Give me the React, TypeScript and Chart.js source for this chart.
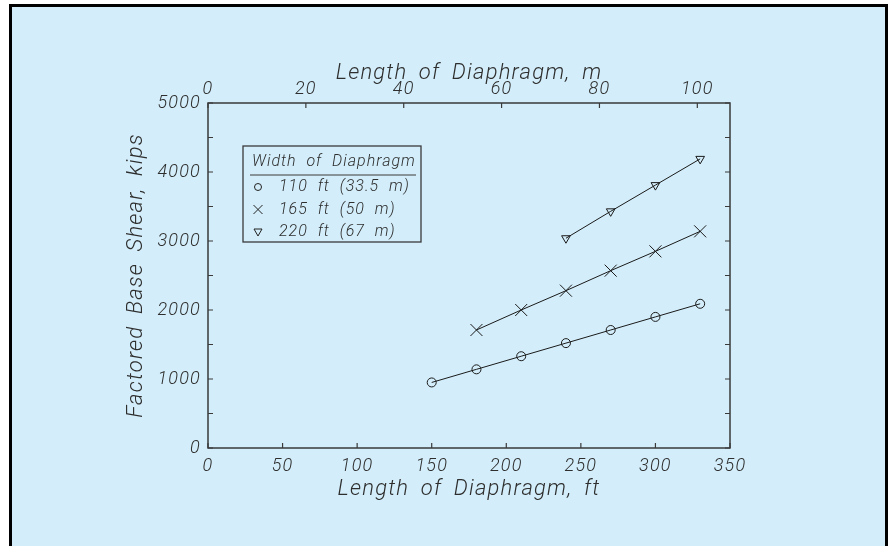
import { useEffect, useRef } from "react";
import { Chart, registerables } from "chart.js";
Chart.register(...registerables);

// ---- data ----
const lengthsFt110 = [150, 180, 210, 240, 270, 300, 330];
const shear110 = [950, 1140, 1330, 1520, 1710, 1900, 2090];
const lengthsFt165 = [180, 210, 240, 270, 300, 330];
const shear165 = [1710, 2000, 2280, 2570, 2850, 3140];
const lengthsFt220 = [240, 270, 300, 330];
const shear220 = [3040, 3430, 3810, 4190];
const seriesLabels = ["110 ft (33.5 m)", "165 ft (50 m)", "220 ft (67 m)"];
const topTicksM = [0, 20, 40, 60, 80, 100];
const legendTitle = "Width of Diaphragm";
const xTitleFt = "Length of Diaphragm, ft";
const xTitleM = "Length of Diaphragm, m";
const yTitle = "Factored Base Shear, kips";
const FT_PER_M = 3.28084;
const X_MAX_FT = 350;
const Y_MAX = 5000;

const FONT = "Roboto, 'DejaVu Sans', sans-serif";
const TEXT = "#2e2e2e";
const AXIS = "#3a3a3a";

const toPts = (xs: number[], ys: number[]) => xs.map((x, i) => ({ x, y: ys[i] }));

const setSpacing = (ctx: any) => {
  ctx.letterSpacing = "1.2px";
  ctx.wordSpacing = "5px";
};

const spacingPlugin = {
  id: "spacing",
  beforeLayout(chart: any) {
    setSpacing(chart.ctx);
  },
  beforeDraw(chart: any) {
    setSpacing(chart.ctx);
  },
};

const framePlugin = {
  id: "frame",
  afterDatasetsDraw(chart: any) {
    const { ctx, chartArea: a, scales } = chart;
    ctx.save();
    ctx.strokeStyle = AXIS;
    ctx.lineWidth = 1.5;
    ctx.strokeRect(a.left, a.top, a.right - a.left, a.bottom - a.top);
    ctx.lineWidth = 1.2;
    const L = 5;
    ctx.beginPath();
    for (const t of scales.x.ticks) {
      const p = scales.x.getPixelForValue(t.value);
      ctx.moveTo(p, a.bottom);
      ctx.lineTo(p, a.bottom - L);
    }
    for (const t of scales.x2.ticks) {
      const p = scales.x2.getPixelForValue(t.value);
      ctx.moveTo(p, a.top);
      ctx.lineTo(p, a.top + L);
    }
    for (const t of scales.y.ticks) {
      const p = scales.y.getPixelForValue(t.value);
      ctx.moveTo(a.left, p);
      ctx.lineTo(a.left + L, p);
      ctx.moveTo(a.right, p);
      ctx.lineTo(a.right - L, p);
    }
    ctx.stroke();
    ctx.restore();
  },
};

const legendPlugin = {
  id: "boxLegend",
  afterDraw(chart: any) {
    const { ctx, chartArea: a } = chart;
    const bx = a.left + 35;
    const by = a.top + 43;
    const bw = 178;
    const bh = 96;
    ctx.save();
    ctx.letterSpacing = "1px";
    ctx.wordSpacing = "5px";
    ctx.strokeStyle = AXIS;
    ctx.lineWidth = 1.3;
    ctx.strokeRect(bx, by, bw, bh);
    ctx.fillStyle = TEXT;
    ctx.font = `italic 300 16px ${FONT}`;
    ctx.textBaseline = "middle";
    ctx.textAlign = "left";
    ctx.fillText(legendTitle, bx + 9, by + 16);
    ctx.beginPath();
    ctx.lineWidth = 1;
    ctx.moveTo(bx + 7, by + 29);
    ctx.lineTo(bx + bw - 5, by + 29);
    ctx.stroke();
    chart.data.datasets.forEach((ds: any, i: number) => {
      const cy = by + 41 + i * 22.5;
      const cx = bx + 15;
      ctx.strokeStyle = "#222";
      ctx.lineWidth = 1;
      ctx.beginPath();
      if (i === 0) {
        ctx.arc(cx, cy, 3.5, 0, Math.PI * 2);
      } else if (i === 1) {
        ctx.moveTo(cx - 4.5, cy - 4.5);
        ctx.lineTo(cx + 4.5, cy + 4.5);
        ctx.moveTo(cx + 4.5, cy - 4.5);
        ctx.lineTo(cx - 4.5, cy + 4.5);
      } else {
        ctx.moveTo(cx - 4, cy - 3);
        ctx.lineTo(cx + 4, cy - 3);
        ctx.lineTo(cx, cy + 4);
        ctx.closePath();
      }
      ctx.stroke();
      ctx.fillStyle = TEXT;
      ctx.fillText(ds.label, bx + 36, cy);
    });
    ctx.restore();
  },
};

export default function App() {
  const ref = useRef<HTMLCanvasElement | null>(null);
  useEffect(() => {
    if (!ref.current) return;
    const tickFont = { family: FONT, size: 18, style: "italic" as const, weight: 300 as any };
    const titleFont = { family: FONT, size: 22, style: "italic" as const, weight: 300 as any };
    const lineDs = (label: string, data: any[], pointStyle: string, radius: number, rotation = 0) => ({
      label,
      data,
      borderColor: "#1a1a1a",
      backgroundColor: "rgba(0,0,0,0)",
      borderWidth: 1,
      pointStyle,
      pointRadius: radius,
      pointRotation: rotation,
      pointBorderColor: "#1a1a1a",
      pointBorderWidth: 1,
      pointBackgroundColor: "rgba(0,0,0,0)",
      showLine: true,
      xAxisID: "x",
      yAxisID: "y",
    });
    const chart = new Chart(ref.current, {
      type: "scatter",
      data: {
        datasets: [
          lineDs(seriesLabels[0], toPts(lengthsFt110, shear110), "circle", 4.5),
          lineDs(seriesLabels[1], toPts(lengthsFt165, shear165), "crossRot", 8.5),
          lineDs(seriesLabels[2], toPts(lengthsFt220, shear220), "triangle", 5, 180),
        ] as any,
      },
      options: {
        animation: false,
        responsive: false,
        devicePixelRatio: 1,
        layout: { padding: { left: 123, top: 60, right: 161, bottom: 43 } },
        plugins: { legend: { display: false }, tooltip: { enabled: false } },
        scales: {
          x: {
            type: "linear",
            position: "bottom",
            min: 0,
            max: X_MAX_FT,
            grid: { display: false, drawTicks: false },
            border: { display: false },
            ticks: { stepSize: 50, color: TEXT, font: tickFont, padding: 8, maxRotation: 0, autoSkip: false },
            title: { display: true, text: xTitleFt, color: TEXT, font: titleFont, padding: 0 },
            afterFit: (s: any) => { s.height = 55; },
          },
          x2: {
            type: "linear",
            position: "top",
            min: 0,
            max: X_MAX_FT / FT_PER_M,
            grid: { display: false, drawTicks: false },
            border: { display: false },
            ticks: { color: TEXT, font: tickFont, padding: 3, maxRotation: 0, autoSkip: false },
            afterBuildTicks: (s: any) => {
              s.ticks = topTicksM.map((v) => ({ value: v }));
            },
            title: { display: true, text: xTitleM, color: TEXT, font: titleFont, padding: 0 },
            afterFit: (s: any) => { s.height = 43; },
          },
          y: {
            type: "linear",
            position: "left",
            min: 0,
            max: Y_MAX,
            grid: { display: false, drawTicks: false },
            border: { display: false },
            ticks: {
              stepSize: 500,
              color: TEXT,
              font: tickFont,
              padding: 7,
              autoSkip: false,
              callback: (v: any) => (Number(v) % 1000 === 0 ? String(v) : ""),
            },
            title: { display: true, text: yTitle, color: TEXT, font: titleFont, padding: 0 },
            afterFit: (s: any) => { s.width = 85; },
          },
        },
      } as any,
      plugins: [spacingPlugin, framePlugin, legendPlugin],
    });
    return () => chart.destroy();
  }, []);

  return (
    <div style={{ position: "fixed", left: 0, top: 0, width: 891, height: 546, background: "#fff", overflow: "hidden" }}>
      <div
        style={{
          position: "absolute",
          left: 9,
          top: 4,
          width: 879,
          height: 600,
          boxSizing: "border-box",
          border: "3px solid #000",
          background: "#d3eefa",
        }}
      />
      <canvas ref={ref} width={891} height={546} style={{ position: "absolute", left: 0, top: 0 }} />
    </div>
  );
}
